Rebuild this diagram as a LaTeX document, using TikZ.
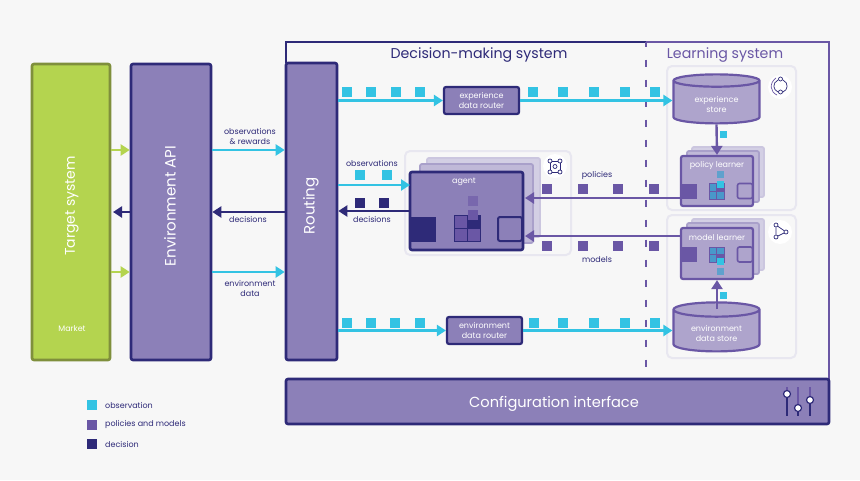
\documentclass[tikz,border=0pt]{standalone}
\usepackage{fontspec}
\setmainfont{Poppins}
\usetikzlibrary{arrows.meta,shapes.geometric}
\definecolor{navy}{HTML}{2E2A78}
\definecolor{lilac}{HTML}{8C80B8}
\definecolor{violet}{HTML}{6A57A5}
\definecolor{pale}{HTML}{AEA4CC}
\definecolor{sky}{HTML}{33C3E3}
\definecolor{lime}{HTML}{B4D44F}
\definecolor{olive}{HTML}{7F8F3C}
\definecolor{panelline}{HTML}{E8E7F0}
\tikzset{
	bigbox/.style={draw=navy,fill=lilac,line width=2.6pt,rounded corners=2pt},
	bigtext/.style={text=white,font=\fontsize{#1}{#1}\selectfont},
	router/.style={draw=navy,fill=lilac,line width=2.2pt,rounded corners=2pt,text=white,align=center,font=\fontsize{8}{10}\selectfont,minimum width=75,minimum height=27},
	panel/.style={draw=panelline,line width=2pt,rounded corners=5pt},
	learner/.style={draw=violet,fill=pale,line width=2.2pt,rounded corners=2pt,minimum width=72,minimum height=50},
	midlayer/.style={draw=#1!75!white,fill=#1!55!white,line width=1.8pt,rounded corners=2pt},
	backlayer/.style={draw=#1!45!white,fill=#1!38!white,line width=1.8pt,rounded corners=2pt},
	store/.style={cylinder,shape border rotate=90,aspect=.28,draw=violet,fill=pale,line width=2.2pt,align=center,minimum width=86,minimum height=49,inner sep=0pt,font=\fontsize{8}{10}\selectfont},
	storetext/.style={text=white,align=center,font=\fontsize{8}{10}\selectfont},
	label/.style={text=navy,align=center,font=\fontsize{8}{10}\selectfont},
	inlabel/.style={text=white,font=\fontsize{8}{10}\selectfont},
	square/.style={fill=#1,minimum size=9.5,inner sep=0pt},
	small/.style={fill=#1,minimum size=7,inner sep=0pt},
	arr/.style={draw=#1,line width=2.4pt,-{Triangle[length=9pt,width=11pt]}},
	knob/.style={circle,draw=navy,fill=white,line width=1.2pt,minimum size=7,inner sep=0pt},
	icon/.style={circle,fill=white,minimum size=24,inner sep=0pt},
	dotc/.style={circle,draw=navy,line width=.7pt,minimum size=4,inner sep=0pt}
}
\begin{document}
\begin{tikzpicture}[x=1pt,y=-1pt]
	\useasboundingbox (0,0) rectangle (860,480);
	\fill[black!3] (0,0) rectangle (860,480);

	% left blocks
	\node[bigbox,draw=olive,fill=lime,minimum width=78,minimum height=296] (target) at (71,212) {};
	\node[bigtext=14,rotate=90] (targettext) at (72,206) {Target system};
	\node[inlabel] (market) at (72,329) {Market};
	\node[bigbox,minimum width=80,minimum height=296] (api) at (171,212) {};
	\node[bigtext=15,rotate=90] (apitext) at (170,206) {Environment API};

	% outer frame
	\coordinate (framea) at (286,63);
	\coordinate (frameb) at (286,42);
	\coordinate (framec) at (646,42);
	\coordinate (framed) at (829,42);
	\coordinate (framee) at (829,380);
	\coordinate (dashend) at (646,369);
	\draw[violet,line width=2.4pt] (framec) -- (framed) -- (framee);
	\draw[navy,line width=2.4pt] (framea) -- (frameb) -- (framec);
	\draw[violet,line width=2.8pt,dash pattern=on 7.5pt off 12.5pt,dash phase=2.5pt] (framec) -- (dashend);
	\node[text=navy,font=\fontsize{14.2}{14}\selectfont] (decisiontitle) at (479,55) {Decision-making system};
	\node[text=violet,font=\fontsize{14.2}{14}\selectfont] (learningtitle) at (725,55) {Learning system};

	\node[bigbox,minimum width=51,minimum height=297] (routing) at (311.5,211.5) {};
	\node[bigtext=15,rotate=90] (routingtext) at (311,206) {Routing};
	\node[bigbox,minimum width=543,minimum height=45] (config) at (557.5,401.5) {};
	\node[bigtext=14.6] (configtext) at (554,404) {Configuration interface};

	% panels
	\draw[panel] (405,151) rectangle (571,255);
	\draw[panel] (667,66) rectangle (796,210);
	\draw[panel] (667,215) rectangle (796,358);

	% icons
	\node[icon] (agenticon) at (555,166) {};
	\node[dotc] (ia) at (550,161) {};
	\node[dotc] (ib) at (560,161) {};
	\node[dotc] (ic) at (550,172) {};
	\node[dotc] (id) at (560,172) {};
	\node[dotc] (ie) at (555,166.5) {};
	\draw[navy,line width=.7pt] (ia) -- (ib) -- (id) -- (ic) -- (ia);
	\node[icon] (expicon) at (780,87) {};
	\node[dotc] (ef) at (780.5,79) {};
	\node[dotc] (eg) at (780.5,92) {};
	\draw[navy,line width=.7pt] (778,80) .. controls (772,83) and (773,90) .. (778,92);
	\draw[navy,line width=.7pt] (783,80) .. controls (789,83) and (788,90) .. (783,92);
	\draw[violet,line width=.7pt] (776,78) .. controls (769,83) and (770,92) .. (777,95);
	\node[icon] (modelicon) at (780,232) {};
	\node[dotc] (ma) at (776,225) {};
	\node[dotc] (mb) at (786,232) {};
	\node[dotc] (mc) at (776,237) {};
	\draw[navy,line width=.7pt] (ma) -- (mb) -- (mc) -- (ma);

	% agent
	\node[backlayer=lilac,minimum width=113,minimum height=79] (agentback) at (483.5,197.5) {};
	\node[midlayer=lilac,minimum width=113,minimum height=79] (agentmid) at (476.5,203.5) {};
	\node[bigbox,minimum width=113,minimum height=78] (agent) at (466.5,211) {};
	\node[inlabel] (agenttext) at (464,182) {agent};
	\node[square=navy,minimum size=25] (agentleft) at (423.5,229) {};
	\node[draw=navy,fill=lilac,line width=2pt,rounded corners=2pt,minimum size=24] (agentright) at (510,229) {};
	\foreach \x/\y/\c in {461/222/violet,474/222/navy,461/235/violet,474/235/violet}
		\node[draw=navy,fill=\c,line width=1pt,minimum size=12.5,inner sep=0pt] (agentcell\x\y) at (\x,\y) {};
	\node[square=violet!60!lilac,minimum size=10] (agentfade) at (473,201) {};
	\node[square=violet,minimum size=10] (agenttoken) at (473,215) {};

	% policy learner
	\node[backlayer=lilac,minimum width=72,minimum height=50] (policyback) at (728,172) {};
	\node[midlayer=lilac,minimum width=72,minimum height=51] (policymid) at (723,176.5) {};
	\node[learner] (policy) at (717,181) {};
	\node[inlabel] (policytext) at (717,165.5) {policy learner};
	\node[square=violet,minimum size=15] (policyleft) at (689.5,191) {};
	\node[draw=violet,fill=pale,line width=1.6pt,rounded corners=2pt,minimum size=15] (policyright) at (745,191) {};
	\foreach \x/\y/\c in {713/187/sky!60!violet,720/187/violet,713/195/sky!60!violet,720/195/sky!60!violet}
		\node[draw=violet,fill=\c,line width=.7pt,minimum size=7.8,inner sep=0pt] (policycell\x\y) at (\x,\y) {};
	\node[small=sky!50!lilac] (policyfade) at (720,174) {};
	\node[small=sky] (policytoken) at (720,184) {};

	% model learner
	\node[backlayer=lilac,minimum width=72,minimum height=51] (modelback) at (728,244.5) {};
	\node[midlayer=lilac,minimum width=72,minimum height=51] (modelmid) at (723,248.5) {};
	\node[learner,minimum height=51] (model) at (717,253.5) {};
	\node[inlabel] (modeltext) at (717,237.5) {model learner};
	\node[square=violet,minimum size=15] (modelleft) at (689.5,254.5) {};
	\node[draw=violet,fill=pale,line width=1.6pt,rounded corners=2pt,minimum size=15] (modelright) at (745,254.5) {};
	\foreach \x/\y/\c in {713/251/sky!60!violet,720/251/sky!60!violet,713/258/sky!60!violet,720/258/violet}
		\node[draw=violet,fill=\c,line width=.7pt,minimum size=7.8,inner sep=0pt] (modelcell\x\y) at (\x,\y) {};
	\node[small=sky!50!lilac] (modelfade) at (720,271) {};
	\node[small=sky] (modeltoken) at (720,261) {};

	% stores and routers
	\node[store] (expstore) at (716.5,102.5) {\phantom{experience}\\\phantom{store}};
	\node[storetext] (exptext) at (716.5,104.5) {experience\\store};
	\node[store] (envstore) at (716.5,331) {\phantom{environment}\\\phantom{data store}};
	\node[storetext] (envtext) at (716.5,333.5) {environment\\data store};
	\node[router] (exprouter) at (481.5,100.5) {experience\\data router};
	\node[router] (envrouter) at (484.5,330.5) {environment\\data router};

	% connectors
	\coordinate (rowobs) at (0,150);
	\coordinate (rowdec) at (0,212);
	\coordinate (rowenv) at (0,272);
	\coordinate (targetin) at (113,212);
	\draw[arr=lime] (target.east |- rowobs) -- (api.west |- rowobs);
	\draw[arr=lime] (target.east |- rowenv) -- (api.west |- rowenv);
	\draw[arr=navy] (api.west |- rowdec) -- (targetin);
	\draw[arr=sky] (api.east |- rowobs) -- (routing.west |- rowobs);
	\draw[arr=navy] (routing.west |- rowdec) -- (api.east |- rowdec);
	\draw[arr=sky] (api.east |- rowenv) -- (routing.west |- rowenv);
	\draw[arr=sky] (routing.east |- exprouter.west) -- (exprouter.west);
	\draw[arr=sky] (exprouter.east) -- (expstore.west |- exprouter.east);
	\draw[arr=sky] (routing.east |- envrouter.west) -- (envrouter.west);
	\draw[arr=sky] (envrouter.east) -- (envstore.west |- envrouter.east);
	\coordinate (agentin) at (410,185);
	\coordinate (agentout) at (410,211);
	\draw[arr=sky] (routing.east |- agentin) -- (agentin);
	\draw[arr=navy] (agentout) -- (routing.east |- agentout);
	\coordinate (policyrow) at (0,198);
	\coordinate (modelrow) at (0,236);
	\coordinate (agentpol) at (525,198);
	\coordinate (agentmod) at (525,236);
	\draw[arr=violet] (policyleft.west |- policyrow) -- (agentpol);
	\draw[arr=violet] (model.west |- modelrow) -- (agentmod);
	\coordinate (storeup) at (717,309);
	\draw[arr=violet] (expstore.south) -- (policy.north);
	\draw[arr=violet] (storeup) -- (model.south);

	% moving data
	\foreach \x in {347,371,396,420,533,563,594,625,655}
		\node[square=sky] (expdot\x) at (\x,92) {};
	\foreach \x in {347,371,395,420,534,563,594,625,655}
		\node[square=sky] (envdot\x) at (\x,323) {};
	\foreach \x in {360,387}
		\node[square=sky] (obsdot\x) at (\x,175) {};
	\foreach \x in {360,384}
		\node[square=navy] (decdot\x) at (\x,203) {};
	\foreach \x in {547,583,618,654}
		\node[square=violet] (poldot\x) at (\x,189) {};
	\foreach \x in {547,583,618,654}
		\node[square=violet] (moddot\x) at (\x,246) {};
	\node[small=sky] (expdrop) at (723,134) {};
	\node[small=sky] (envdrop) at (723,295) {};

	% labels
	\node[label] (lobsrew) at (250,136) {observations\\\& rewards};
	\node[label] (ldec) at (248,219.5) {decisions};
	\node[label] (lenv) at (250,288) {environment\\data};
	\node[label] (lobs) at (372,163.5) {observations};
	\node[label] (ldecb) at (372,219.5) {decisions};
	\node[label] (lpol) at (597,175.5) {policies};
	\node[label] (lmod) at (597,259.5) {models};

	% sliders
	\foreach \x/\y in {787/394,798/408,810/400} {
		\draw[violet,line width=1.8pt] (\x,387) -- (\x,\y);
		\draw[navy,line width=1.8pt] (\x,\y) -- (\x,416);
		\node[knob] (knob\x) at (\x,\y) {};
	}

	% legend
	\node[square=sky] (legendobs) at (92,405) {};
	\node[square=violet] (legendpol) at (92,425) {};
	\node[square=navy] (legenddec) at (92,444) {};
	\node[label,anchor=west,inner sep=0pt] (tobs) at (105,405) {observation};
	\node[label,anchor=west,inner sep=0pt] (tpol) at (105,424.5) {policies and models};
	\node[label,anchor=west,inner sep=0pt] (tdec) at (105,444) {decision};
\end{tikzpicture}
\end{document}
